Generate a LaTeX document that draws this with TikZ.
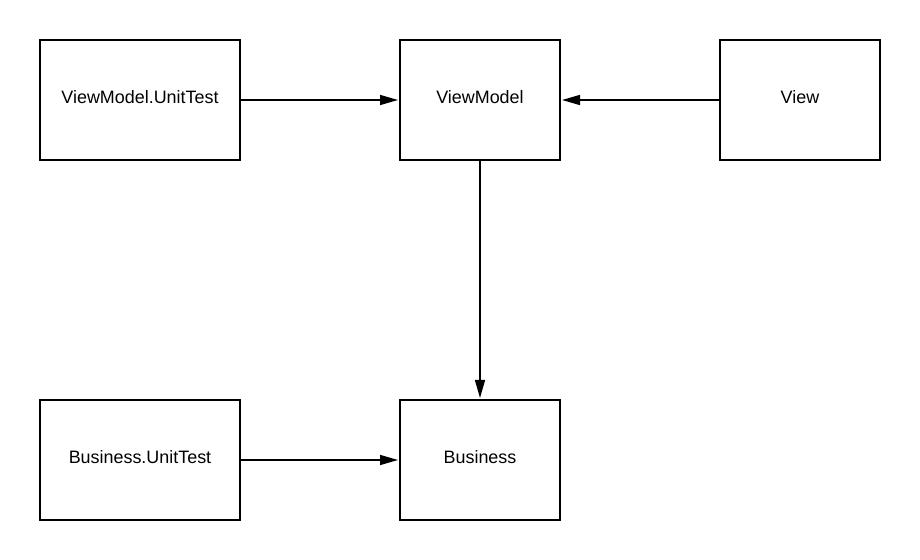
\documentclass[tikz,border=0pt]{standalone}
\usepackage{fontspec}
\setmainfont{Liberation Sans}
\usepackage{tikz}
\usetikzlibrary{arrows.meta}

\begin{document}
\begin{tikzpicture}[
            x=0.02cm, y=-0.02cm,
            box node/.style={draw=black, line width=1.1pt, minimum width=3.2cm, minimum height=2.4cm, inner sep=0pt, text depth=0.12cm, font=\fontsize{10.2pt}{12pt}\selectfont},
            wide node/.style={box node, minimum width=4cm},
            dep/.style={line width=0.85pt, -{Triangle[length=0.36cm, width=0.2cm]}, shorten >=0.6pt},
            ]
            \useasboundingbox (0,0) rectangle (920,560);

            \node[wide node] (vmtest) at (140,100) {ViewModel.UnitTest};
            \node[box node] (vm) at (480,100) {ViewModel};
            \node[box node] (view) at (800,100) {View};
            \node[wide node] (bztest) at (140,460) {Business.UnitTest};
            \node[box node] (bz) at (480,460) {Business};

            \draw[dep] (vmtest) -- (vm);
            \draw[dep] (view) -- (vm);
            \draw[dep] (vm) -- (bz);
            \draw[dep] (bztest) -- (bz);
        \end{tikzpicture}
\end{document}
